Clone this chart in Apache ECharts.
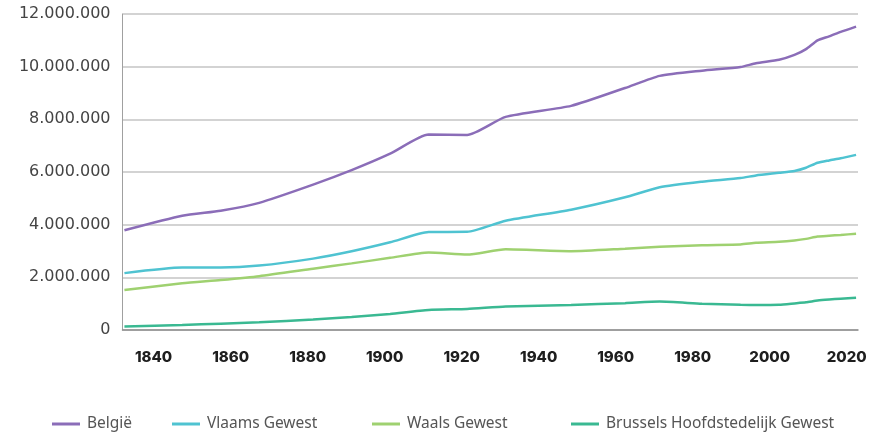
<!DOCTYPE html>
<html>
<head>
<meta charset="utf-8">
<script src="https://cdn.jsdelivr.net/npm/echarts@6/dist/echarts.min.js"></script>
<style>
  html, body { margin: 0; padding: 0; background: #fff; }
  #bevolking { width: 871px; height: 432px; }
</style>
</head>
<body>
<div id="bevolking"></div>
<script>
  // census years (recent years yearly register data)
  const years = [1831, 1846, 1856, 1866, 1880, 1890, 1900, 1910, 1920, 1930, 1947, 1961, 1970, 1981, 1991, 1995, 2001, 2005, 2008, 2011, 2014, 2017, 2021];
  const belgie = [3785000, 4337000, 4530000, 4828000, 5520000, 6069000, 6694000, 7424000, 7406000, 8092000, 8512000, 9190000, 9651000, 9849000, 9987000, 10131000, 10263000, 10446000, 10667000, 11001000, 11150000, 11322000, 11522000];
  const vlaams = [2160000, 2370000, 2370000, 2445000, 2710000, 2990000, 3330000, 3720000, 3730000, 4150000, 4570000, 5040000, 5420000, 5630000, 5770000, 5870000, 5970000, 6040000, 6160000, 6350000, 6440000, 6520000, 6650000];
  const waals = [1520000, 1775000, 1900000, 2045000, 2330000, 2530000, 2740000, 2945000, 2865000, 3065000, 2995000, 3090000, 3160000, 3220000, 3250000, 3310000, 3350000, 3400000, 3460000, 3550000, 3580000, 3610000, 3655000];
  const brussel = [135000, 190000, 240000, 295000, 400000, 490000, 610000, 760000, 800000, 890000, 950000, 1020000, 1080000, 1000000, 960000, 950000, 960000, 1010000, 1050000, 1120000, 1160000, 1190000, 1220000];
  const yearTicks = [1840, 1860, 1880, 1900, 1920, 1940, 1960, 1980, 2000, 2020];
  const names = ['België', 'Vlaams Gewest', 'Waals Gewest', 'Brussels Hoofdstedelijk Gewest'];
  const colors = ['#8b6db8', '#4fc3d1', '#9fd170', '#3ab992'];

  const pairs = arr => years.map((y, i) => [y, arr[i]]);
  const dots = v => String(v).replace(/\B(?=(\d{3})+(?!\d))/g, '.');

  const legendLeft = [52, 172, 372, 571];
  const legends = names.map((n, i) => ({
    data: [n],
    left: legendLeft[i],
    top: 416,
    padding: 0,
    icon: 'rect',
    itemWidth: 28,
    itemHeight: 3,
    selectedMode: false,
    textStyle: { color: '#555', fontFamily: 'Noto Sans', fontSize: 15.5, padding: [0, 0, 0, 2] }
  }));

  const option = {
    animation: false,
    color: colors,
    grid: {
      left: 122.5,
      right: 13,
      top: 14,
      bottom: 102,
      containLabel: false,
      outerBoundsMode: 'none'
    },
    legend: legends,
    xAxis: {
      type: 'value',
      min: 1830.5,
      max: 2021.5,
      splitLine: { show: false },
      axisTick: { show: false },
      axisLine: { lineStyle: { color: '#8f8f8f', width: 1.5 } },
      axisLabel: {
        customValues: yearTicks,
        formatter: v => String(v),
        margin: 20,
        padding: [0, 11, 0, 0],
        color: '#1e1e1e',
        fontFamily: 'Inter',
        fontWeight: 800,
        fontSize: 15
      }
    },
    yAxis: {
      type: 'value',
      min: 0,
      max: 12000000,
      interval: 2000000,
      axisLine: { show: true, lineStyle: { color: '#a0a0a0' } },
      axisTick: { show: false },
      splitLine: { lineStyle: { color: '#c4c4c4', width: 1.5 } },
      axisLabel: {
        formatter: dots,
        margin: 12,
        color: '#444',
        fontFamily: 'DejaVu Sans',
        fontSize: 16
      }
    },
    series: [belgie, vlaams, waals, brussel].map((d, i) => ({
      name: names[i],
      type: 'line',
      data: pairs(d),
      showSymbol: false,
      smooth: 0.2,
      lineStyle: { width: 2.5 }
    }))
  };

  const chart = echarts.init(document.getElementById('bevolking'));
  chart.setOption(option);
  window.addEventListener('resize', function () {
    chart.resize();
  });
</script>
</body>
</html>
